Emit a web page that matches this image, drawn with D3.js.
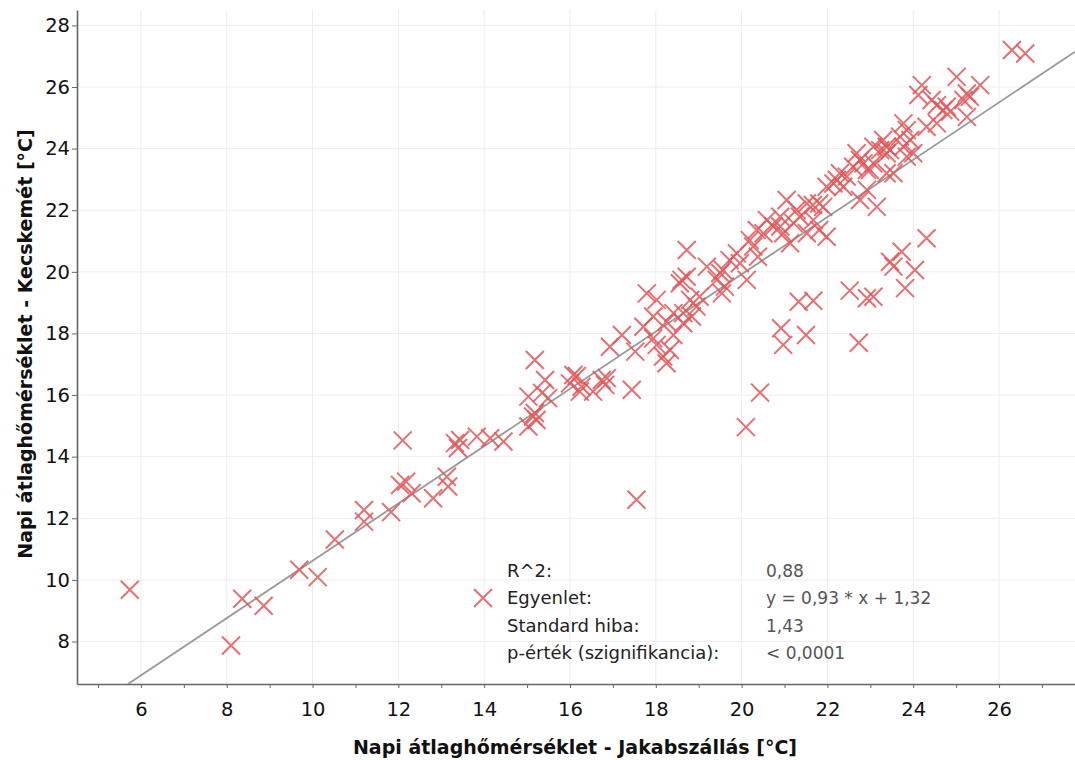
<!DOCTYPE html>
<html>
<head>
<meta charset="utf-8">
<script src="https://cdn.jsdelivr.net/npm/d3@7"></script>
<style>
  body { margin: 0; background: #fff; }
  svg text { font-family: "DejaVu Sans", sans-serif; }
</style>
</head>
<body>
<div id="chart"></div>
<script>
'use strict';

// napi átlaghőmérséklet, Jakabszállás (x) és Kecskemét (y)
const jakab = [5.74, 8.10, 8.36, 8.86, 9.69, 10.12, 10.52, 11.20, 11.20, 11.83,
  12.10, 12.04, 12.18, 12.31, 12.81, 13.13, 13.16, 13.32, 13.44, 13.39,
  13.83, 14.14, 14.45, 15.03, 15.14, 15.22, 15.18, 15.03, 15.18, 15.42,
  15.49, 15.35, 16.08, 16.16, 16.00, 16.27, 16.23, 16.54, 16.74, 16.86,
  16.82, 17.44, 17.55, 16.93, 17.21, 17.52, 17.79, 18.02, 17.71, 17.94,
  18.17, 18.25, 18.02, 18.41, 18.60, 18.72, 18.72, 18.64, 18.84, 17.94,
  18.41, 18.80, 18.95, 18.64, 18.56, 19.50, 19.56, 19.42, 19.61, 19.54,
  19.89, 20.12, 20.27, 20.38, 20.59, 20.74, 20.51, 21.05, 20.97, 21.13,
  21.28, 21.52, 21.66, 21.81, 21.90, 21.81, 21.98, 22.29, 22.45, 22.22,
  22.68, 22.76, 23.07, 23.23, 22.76, 23.15, 18.25, 18.33, 19.19, 19.02,
  19.72, 19.96, 20.19, 20.90, 21.21, 21.36, 21.67, 21.52, 22.14, 22.37,
  22.60, 22.92, 23.07, 23.38, 20.43, 20.10, 20.92, 20.97, 21.50, 21.33,
  21.67, 22.52, 22.73, 22.92, 23.07, 23.54, 23.73, 23.46, 24.04, 23.81,
  24.31, 26.30, 26.61, 25.01, 24.20, 24.12, 25.56, 25.25, 25.32, 25.17,
  24.43, 24.55, 24.70, 24.86, 24.78, 24.55, 24.31, 25.25, 23.77, 23.85,
  23.69, 23.93, 23.77, 24.00, 23.85, 23.30, 23.38, 22.84, 22.99, 23.38,
  22.92, 23.54, 23.46, 21.98, 20.35, 20.90];

const kecskemet = [9.68, 7.87, 9.39, 9.16, 10.33, 10.09, 11.31, 12.27, 11.89, 12.20,
  14.53, 13.08, 13.19, 12.81, 12.65, 13.35, 13.03, 14.44, 14.54, 14.28,
  14.65, 14.60, 14.49, 14.98, 15.30, 15.19, 15.42, 15.95, 17.14, 16.49,
  15.90, 16.07, 16.65, 16.62, 16.38, 16.27, 16.11, 16.11, 16.49, 16.55,
  16.33, 16.17, 12.60, 17.57, 17.95, 17.41, 19.30, 19.09, 18.22, 17.84,
  17.25, 17.03, 17.63, 17.95, 19.74, 19.84, 20.71, 18.66, 18.55, 18.55,
  18.66, 19.09, 18.87, 18.33, 19.63, 19.96, 20.06, 19.74, 19.52, 19.30,
  20.60, 19.74, 20.82, 20.49, 21.68, 21.47, 21.25, 22.33, 21.25, 20.93,
  22.01, 22.22, 22.17, 22.22, 22.11, 21.36, 21.14, 23.20, 23.09, 22.98,
  23.85, 23.63, 24.06, 23.95, 22.33, 22.11, 18.38, 17.46, 20.17, 19.19,
  20.38, 20.28, 21.03, 21.79, 21.58, 21.79, 21.68, 21.25, 22.87, 22.76,
  23.41, 23.31, 23.52, 24.06, 16.08, 14.96, 18.17, 17.63, 17.95, 19.03,
  19.06, 19.39, 17.70, 19.14, 19.19, 20.17, 20.65, 20.33, 20.06, 19.47,
  21.09, 27.20, 27.09, 26.33, 26.06, 25.74, 26.06, 25.79, 25.68, 25.58,
  25.58, 25.41, 25.25, 25.20, 25.36, 24.82, 24.71, 25.03, 24.82, 24.60,
  24.39, 24.28, 24.06, 23.85, 23.74, 24.28, 23.85, 23.52, 23.31, 23.20,
  22.66, 23.20, 23.95, 22.76, 21.36, 21.47];

const xTicks = [6, 8, 10, 12, 14, 16, 18, 20, 22, 24, 26];
const xMinorTicks = [5, 7, 9, 11, 13, 15, 17, 19, 21, 23, 25, 27];
const yTicks = [8, 10, 12, 14, 16, 18, 20, 22, 24, 26, 28];

// trendvonal: y = slope * x + intercept
const slope = 0.93;
const intercept = 1.32;

const statLabels = ['R^2:', 'Egyenlet:', 'Standard hiba:', 'p-érték (szignifikancia):'];
const statValues = ['0,88', 'y = 0,93 * x + 1,32', '1,43', '< 0,0001'];

const xTitle = 'Napi átlaghőmérséklet - Jakabszállás [°C]';
const yTitle = 'Napi átlaghőmérséklet - Kecskemét [°C]';

let width = 1075,
  height = 760;

let plotLeft = 77, plotRight = 1075, plotTop = 10, plotBottom = 684;

let svg = d3.select('#chart').append('svg')
  .attr('width', width)
  .attr('height', height);

let x = d3.scaleLinear()
  .domain([4.51, 27.77])
  .range([plotLeft, plotRight]);

let y = d3.scaleLinear()
  .domain([6.62, 28.5])
  .range([plotBottom, plotTop]);

// rács
svg.append('g').selectAll('line')
  .data(xTicks)
  .enter().append('line')
    .attr('x1', d => x(d)).attr('x2', d => x(d))
    .attr('y1', plotTop).attr('y2', plotBottom)
    .attr('stroke', '#ededed');

svg.append('g').selectAll('line')
  .data(yTicks)
  .enter().append('line')
    .attr('x1', plotLeft).attr('x2', plotRight)
    .attr('y1', d => y(d)).attr('y2', d => y(d))
    .attr('stroke', '#ededed');

// tengelyek
let xMinor = svg.append('g')
  .attr('transform', `translate(0,${plotBottom})`)
  .call(d3.axisBottom(x).tickValues(xMinorTicks).tickSize(4).tickFormat(''));
xMinor.select('.domain').remove();
xMinor.selectAll('line').attr('stroke', '#666');

let xAxis = svg.append('g')
  .attr('transform', `translate(0,${plotBottom})`)
  .call(d3.axisBottom(x).tickValues(xTicks).tickSize(4).tickSizeOuter(0).tickPadding(14.5));

let yAxis = svg.append('g')
  .attr('transform', `translate(${plotLeft},0)`)
  .call(d3.axisLeft(y).tickValues(yTicks).tickSize(5).tickSizeOuter(0).tickPadding(2));

[xAxis, yAxis].forEach(a => {
  a.select('.domain').attr('stroke', '#666').attr('stroke-width', 1.6);
  a.selectAll('.tick line').attr('stroke', '#666');
  a.selectAll('.tick text')
    .attr('fill', '#111')
    .style('font-size', '19.5px')
    .style('font-family', '"DejaVu Sans", sans-serif');
});

// trendvonal
svg.append('defs').append('clipPath').attr('id', 'plot')
  .append('rect')
    .attr('x', plotLeft).attr('y', plotTop)
    .attr('width', plotRight - plotLeft).attr('height', plotBottom - plotTop);

let x0 = (y.domain()[0] - intercept) / slope;
let x1 = x.domain()[1];

svg.append('line')
  .attr('clip-path', 'url(#plot)')
  .attr('x1', x(x0)).attr('y1', y(slope * x0 + intercept))
  .attr('x2', x(x1)).attr('y2', y(slope * x1 + intercept))
  .attr('stroke', '#999')
  .attr('stroke-width', 1.8);

// pontok
const cross = 'M-9,-9L9,9M-9,9L9,-9';

svg.append('g').selectAll('path')
  .data(jakab.map((d, i) => [d, kecskemet[i]]))
  .enter().append('path')
    .attr('d', cross)
    .attr('transform', d => `translate(${x(d[0])},${y(d[1])})`)
    .attr('fill', 'none')
    .attr('stroke', '#e15759')
    .attr('stroke-width', 2)
    .attr('stroke-opacity', 0.85);

// jelmagyarázat
let legend = svg.append('g');

legend.append('path')
  .attr('d', cross)
  .attr('transform', 'translate(483,598)')
  .attr('fill', 'none')
  .attr('stroke', '#e15759')
  .attr('stroke-width', 2)
  .attr('stroke-opacity', 0.85);

legend.selectAll('text.lab')
  .data(statLabels)
  .enter().append('text')
    .attr('class', 'lab')
    .attr('x', 507)
    .attr('y', (d, i) => 577 + i * 27.3)
    .attr('fill', '#222')
    .style('font-family', '"DejaVu Sans", sans-serif')
    .style('font-size', '18px')
    .text(d => d);

legend.selectAll('text.val')
  .data(statValues)
  .enter().append('text')
    .attr('class', 'val')
    .attr('x', 766)
    .attr('y', (d, i) => 577 + i * 27.3)
    .attr('fill', '#555')
    .style('font-family', '"DejaVu Sans", sans-serif')
    .style('font-size', '17px')
    .text(d => d);

// tengelycímek
svg.append('text')
  .attr('x', 575)
  .attr('y', 754)
  .attr('text-anchor', 'middle')
  .attr('fill', '#111')
  .style('font-weight', 'bold')
  .style('font-size', '19px')
  .text(xTitle);

svg.append('text')
  .attr('transform', 'translate(32,344) rotate(-90)')
  .attr('text-anchor', 'middle')
  .attr('fill', '#111')
  .style('font-weight', 'bold')
  .style('font-size', '19px')
  .text(yTitle);
</script>
</body>
</html>
